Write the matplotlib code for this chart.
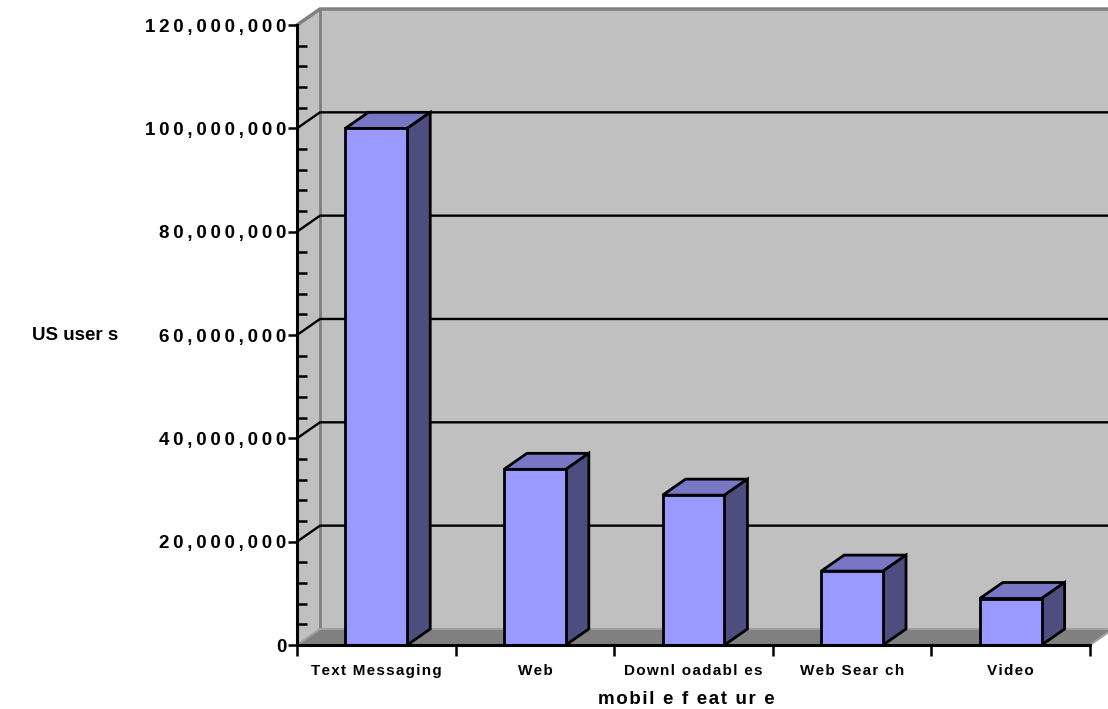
import matplotlib
matplotlib.use('Agg')
import matplotlib.pyplot as plt
from matplotlib.patches import Polygon
from matplotlib.ticker import MultipleLocator

plt.rcParams['font.family'] = ['Liberation Sans', 'DejaVu Sans']
plt.rcParams['font.weight'] = 'bold'

# 数据
features = ['Text Messaging', 'Web', 'Downl oadabl es', 'Web Sear ch', 'Video']
users = [100e6, 34e6, 29e6, 14.3e6, 9e6]
ytick_values = [0, 20e6, 40e6, 60e6, 80e6, 100e6, 120e6]
ytick_labels = ['0', '20,000,000', '40,000,000', '60,000,000',
                '80,000,000', '100,000,000', '120,000,000']


def spaced(s, sp='\u2009'):
    return sp.join(s)


# 3D 偏移量（数据单位）
ddx = 0.145
ddy = 3.1e6
ymax = 120e6
n = len(features)

fig = plt.figure(figsize=(11.08, 7.09), dpi=100)
ax = fig.add_axes([297 / 1108, 64 / 709, 811 / 1108, 636 / 709])
ax.set_xlim(0, 811 / 158.6)
ax.set_ylim(0, ymax + ddy)
ax.patch.set_visible(False)

wall = '#c0c0c0'
edge_gray = '#808080'

# 背墙、侧墙、地面
ax.add_patch(Polygon([(ddx, ddy), (n + ddx + 1, ddy), (n + ddx + 1, ymax + ddy), (ddx, ymax + ddy)],
                     closed=True, facecolor=wall, edgecolor='none', zorder=0, clip_on=False))
ax.add_patch(Polygon([(0, 0), (ddx, ddy), (ddx, ymax + ddy), (0, ymax)],
                     closed=True, facecolor=wall, edgecolor='none', zorder=0, clip_on=False))
ax.plot([0, ddx, n + ddx + 1], [ymax, ymax + ddy, ymax + ddy], color=edge_gray, lw=2.5, zorder=1, clip_on=False)
ax.plot([ddx, ddx], [ddy, ymax + ddy], color=edge_gray, lw=2, zorder=1, clip_on=False)
ax.add_patch(Polygon([(0, 0), (n, 0), (n + ddx, ddy), (ddx, ddy)],
                     closed=True, facecolor='#808080', edgecolor='#a0a0a0', lw=1.5, zorder=1, clip_on=False))

# 网格线
for v in ytick_values[1:-1]:
    ax.plot([0, ddx, n + ddx + 1], [v, v + ddy, v + ddy], color='black', lw=1.7, zorder=2, clip_on=False)

# 柱子
bw = 0.39
for i, v in enumerate(users):
    x0 = i + 0.5 - bw / 2
    x1 = x0 + bw
    ax.add_patch(Polygon([(x0, v), (x1, v), (x1 + ddx, v + ddy), (x0 + ddx, v + ddy)],
                         closed=True, facecolor='#7777c6', edgecolor='black', lw=2, zorder=3))
    ax.add_patch(Polygon([(x1, 0), (x1 + ddx, ddy), (x1 + ddx, v + ddy), (x1, v)],
                         closed=True, facecolor='#4d4d80', edgecolor='black', lw=2, zorder=3))
ax.bar([i + 0.5 for i in range(n)], users, width=bw, color='#9999ff',
       edgecolor='black', linewidth=2, zorder=4)

# 坐标轴
for s in ['top', 'right']:
    ax.spines[s].set_visible(False)
ax.spines['left'].set_bounds(0, ymax)
ax.spines['bottom'].set_bounds(0, n)
ax.spines['left'].set_linewidth(2.2)
ax.spines['bottom'].set_linewidth(2.2)
ax.spines['left'].set_zorder(5)
ax.spines['bottom'].set_zorder(5)

ax.set_yticks(ytick_values, [spaced(t) for t in ytick_labels])
ax.yaxis.set_minor_locator(MultipleLocator(4e6))
ax.tick_params(axis='y', which='major', direction='out', length=6.5, width=1.8, pad=1, labelsize=13.5)
ax.tick_params(axis='y', which='minor', direction='in', length=7, width=1.8)

ax.set_xticks(range(n + 1), [''] * (n + 1))
ax.set_xticks([i + 0.5 for i in range(n)], [spaced(f, '\u200a') for f in features], minor=True)
ax.tick_params(axis='x', which='major', direction='out', length=8, width=1.8)
ax.tick_params(axis='x', which='minor', length=0, pad=14, labelsize=11)

ax.set_ylabel('US user s', rotation=0, fontsize=13.5, fontweight='bold', ha='center', va='center')
ax.yaxis.set_label_coords((75 - 297) / 811, (645 - 335) / 636)
ax.set_xlabel(spaced('mobil e f eat ur e', '\u200a'), fontsize=13.5, fontweight='bold', va='center')
ax.xaxis.set_label_coords((686 - 297) / 811, (645 - 700) / 636)

fig.savefig('out.png', dpi=100)
